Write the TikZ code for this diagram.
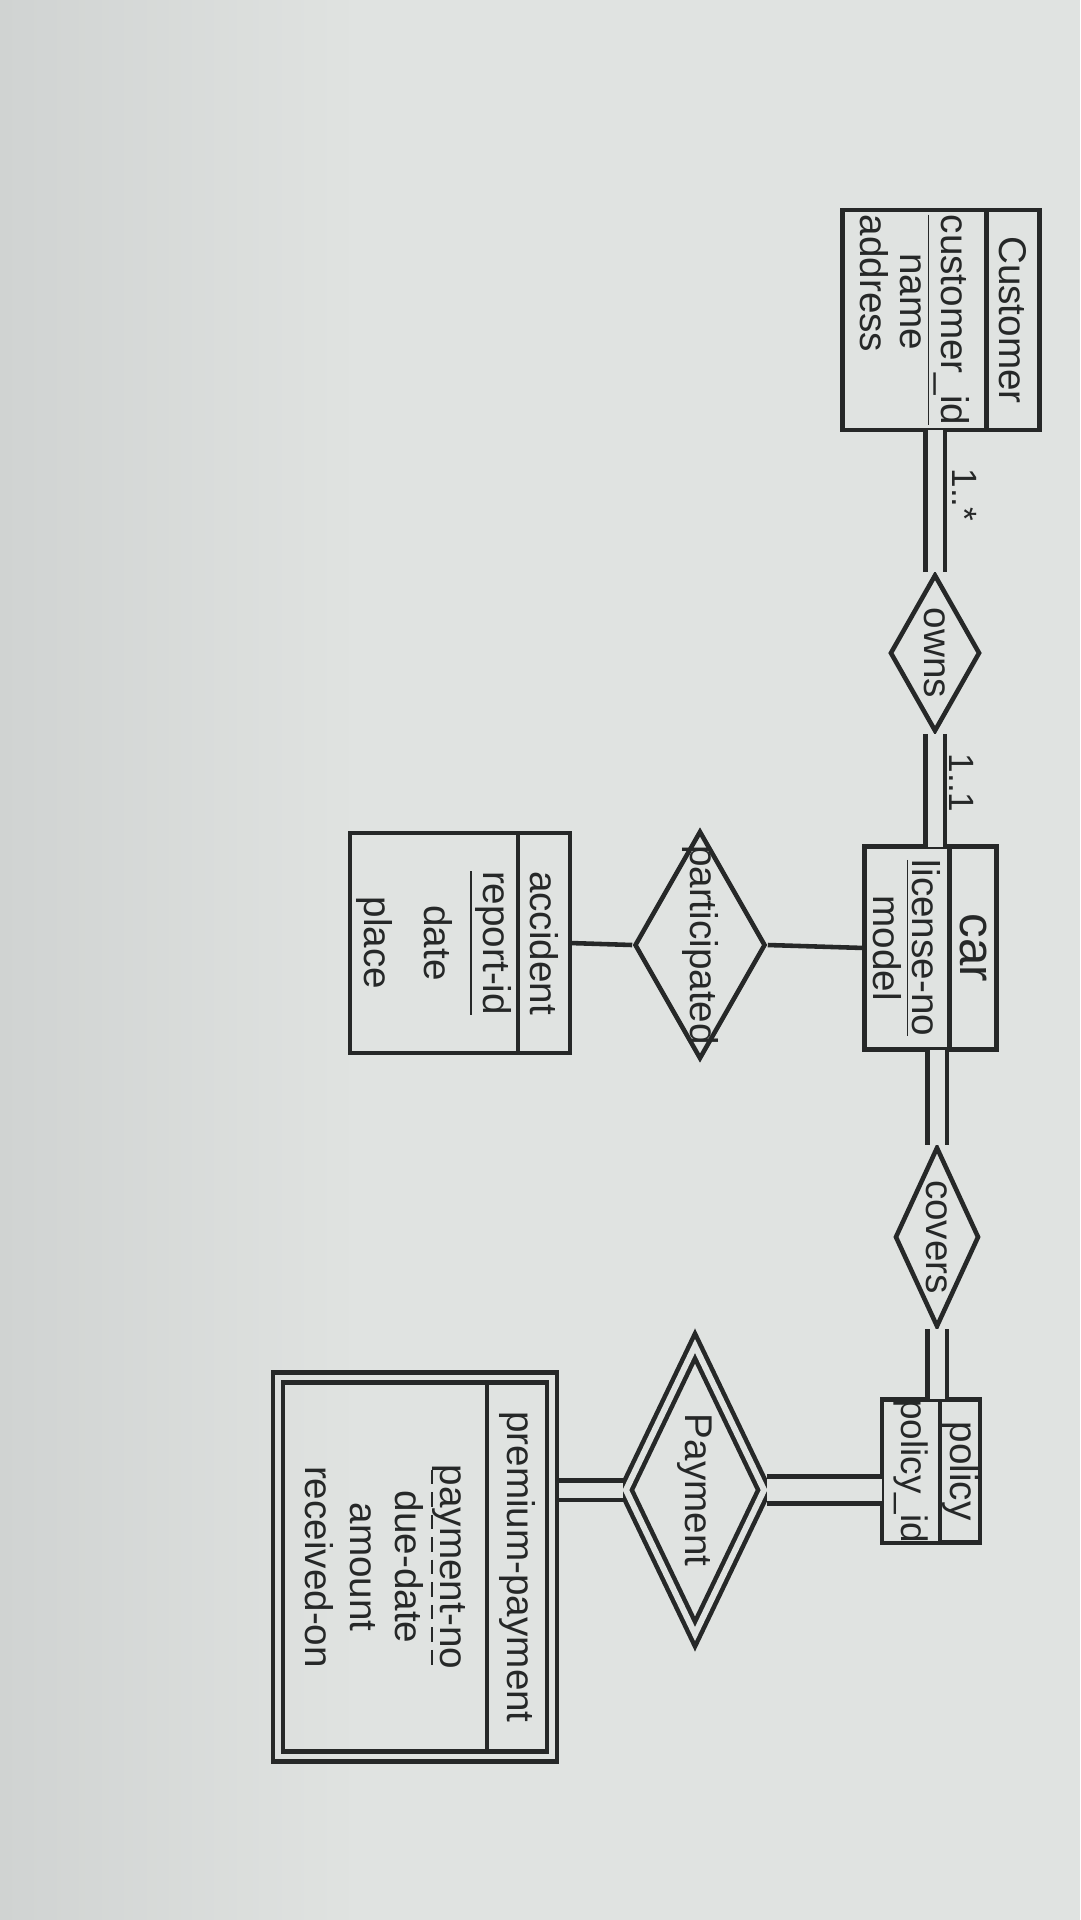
\documentclass[tikz,border=0pt]{standalone}
\usepackage{fontspec}
\setmainfont{Liberation Sans}
\usetikzlibrary{shapes.geometric,fit}

\definecolor{paper}{RGB}{224,227,225}
\definecolor{shadow}{RGB}{208,211,210}
\definecolor{ink}{RGB}{38,40,40}

% dashed underline for the partial key
\newsavebox\pkbox
\newcommand\dashkey[1]{\sbox\pkbox{#1}\rlap{\raisebox{-0.45ex}{\hbox to \wd\pkbox{\xleaders\hbox to 0.55em{\hss\rule{0.38em}{0.6pt}\hss}\hfill}}}\usebox\pkbox}

\begin{document}
\begin{tikzpicture}[x=0.1mm,y=-0.1mm,
  pen/.style={draw=ink,line width=1.3pt},
  ehead/.style={pen,rectangle,rotate=-90,inner sep=0pt,outer sep=0pt,text=ink,font=\fontsize{11}{13}\selectfont},
  eattr/.style={pen,rectangle,rotate=-90,inner sep=0pt,outer sep=0pt,text=ink,align=center},
  rel/.style={pen,diamond,rotate=-90,inner sep=0pt},
  rtext/.style={rotate=-90,text=ink,font=\fontsize{11}{13}\selectfont},
  link/.style={pen},
  dbl/.style={pen,double=paper,double distance=1.5mm}]

\useasboundingbox (0,0) rectangle (1080,1920);
\fill[paper] (0,0) rectangle (1080,1920);
\shade[left color=shadow,right color=paper] (0,0) rectangle (360,1920);

% entities
\node[ehead,minimum width=22mm,minimum height=5.3mm] (custH) at (1013,320) {Customer};
\node[eattr,minimum width=22mm,minimum height=14.4mm,anchor=north,align=left,font=\fontsize{11}{11.5}\selectfont] (custA) at (custH.south) {\underline{customer\_id}\\\hspace*{1em}name\\address};

\node[ehead,minimum width=20.3mm,minimum height=4.7mm,font=\fontsize{14}{16}\selectfont] (carH) at (973,948) {car};
\node[eattr,minimum width=20.3mm,minimum height=8.5mm,anchor=north,font=\fontsize{11}{11}\selectfont] (carA) at (carH.south) {\underline{license-no}\\model};

\node[ehead,minimum width=22mm,minimum height=5.2mm] (accH) at (544,943) {accident};
\node[eattr,minimum width=22mm,minimum height=16.8mm,anchor=north,font=\fontsize{11}{17}\selectfont] (accA) at (accH.south) {\underline{report-id}\\date\\place};

\node[ehead,minimum width=14.3mm,minimum height=4mm] (polH) at (960,1471) {policy};
\node[eattr,minimum width=14.3mm,minimum height=5.8mm,anchor=north,font=\fontsize{10.5}{12}\selectfont] (polA) at (polH.south) {policy\_id};

\node[ehead,minimum width=36.9mm,minimum height=6mm] (ppH) at (517,1567) {premium-payment};
\node[eattr,minimum width=36.9mm,minimum height=20.4mm,anchor=north,font=\fontsize{11}{12.8}\selectfont] (ppA) at (ppH.south) {\dashkey{payment-no}\\due-date\\amount\\received-on};
\node[pen,fit=(ppH)(ppA),inner sep=1mm] (ppBox) {};

% relationships
\node[rel,minimum width=15.7mm,minimum height=9mm] (owns) at (935,653) {};
\node[rtext] (ownsT) at (owns) {owns};
\node[rel,minimum width=22.8mm,minimum height=13.1mm] (part) at (700,945) {};
\node[rtext] (partT) at (part) {participated};
\node[rel,minimum width=18mm,minimum height=8.4mm] (cov) at (937,1237) {};
\node[rtext] (covT) at (cov) {covers};
\node[rel,minimum width=29mm,minimum height=14mm,double=paper,double distance=0.6mm] (pay) at (695,1490) {};
\node[rtext] (payT) at (pay) {Payment};

\node[rtext,font=\fontsize{10}{12}\selectfont] (card1) at (965,495) {1..*};
\node[rtext,font=\fontsize{10}{12}\selectfont] (card2) at (962,783) {1..1};

% connectors
\draw[dbl] (owns.west) -- (owns.west |- custA.east);
\draw[dbl] (owns.east) -- (owns.east |- carA.west);
\draw[link] (accH.north) -- (part.south);
\draw[link] (part.north) -- (carA.south);
\draw[dbl] (cov.west) -- (cov.west |- carA.east);
\draw[dbl] (cov.east) -- (cov.east |- polA.west);
\draw[dbl,double distance=2.2mm] (pay.north) -- (pay.north -| polA.south);
\draw[dbl] (pay.south) -- (pay.south -| ppBox.east);

\end{tikzpicture}
\end{document}
